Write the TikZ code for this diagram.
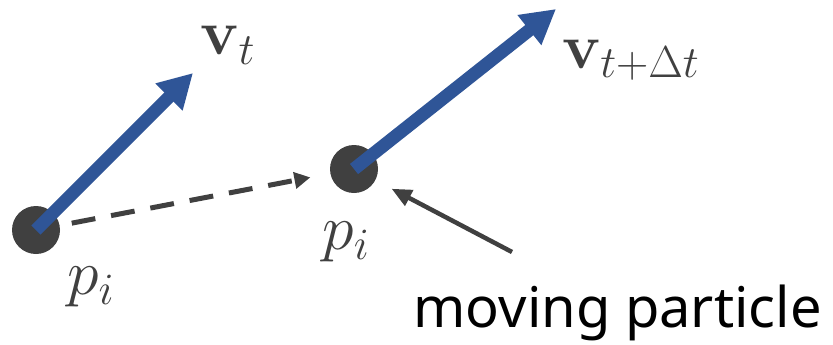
\RequirePackage{fix-cm}
\documentclass[tikz,border=0pt]{standalone}
\usepackage{amsmath}
\usepackage{tikz}
\usepackage{xcolor}
\usepackage[no-math]{fontspec}
\usetikzlibrary{arrows.meta}
\definecolor{bluecolor}{RGB}{47,85,151}
\definecolor{graycolor}{RGB}{64,64,64}
\newfontfamily\labelfont{Noto Sans}

\begin{document}
\begin{tikzpicture}[x=0.5pt, y=-0.5pt, % one unit is one pixel of the sketch
    particle/.style={circle, fill=graycolor, minimum size=24pt, inner sep=0pt},
    velocity/.style={bluecolor, line width=6.5pt, -{Triangle[length=17pt, width=18pt]}},
    mathlabel/.style={text=graycolor, font=\fontsize{32}{38}\selectfont, inner sep=0pt}]

    \useasboundingbox (0,0) rectangle (833,344); % frame of the sketch

    % Particle at time t and at time t + Delta t
    \node[particle] (p1) at (36,230) {};
    \node[particle] (p2) at (354,169) {};

    % Tips of the velocity vectors
    \coordinate (vt) at (193,73);
    \coordinate (vdt) at (556,9);

    % Velocity vectors
    \draw[velocity] (p1.center) -- (vt);
    \draw[velocity] (p2.center) -- (vdt);

    % Displacement of the particle
    \draw[graycolor, line width=2.5pt, dash pattern=on 12pt off 8pt, -{Triangle[length=8pt, width=8pt]}, shorten <=6pt, shorten >=10pt] (p1) -- (p2);

    % Labels
    \node[mathlabel] (lvt) at (228,45) {$\mathbf{v}_t$};
    \node[mathlabel] (lvdt) at (631,60) {$\mathbf{v}_{t+\Delta t}$};
    \node[mathlabel] (lp1) at (91,287) {$p_i$};
    \node[mathlabel] (lp2) at (346,242) {$p_i$};

    % Pointer to the moving particle
    \node[anchor=base west, inner sep=0pt, font=\labelfont\fontsize{28}{34}\selectfont] (lmp) at (413,327) {moving particle};
    \coordinate (tail) at (512,252);
    \draw[graycolor, line width=2.25pt, -{Triangle[length=10pt, width=8.5pt]}, shorten >=9pt] (tail) -- (p2);

\end{tikzpicture}
\end{document}
